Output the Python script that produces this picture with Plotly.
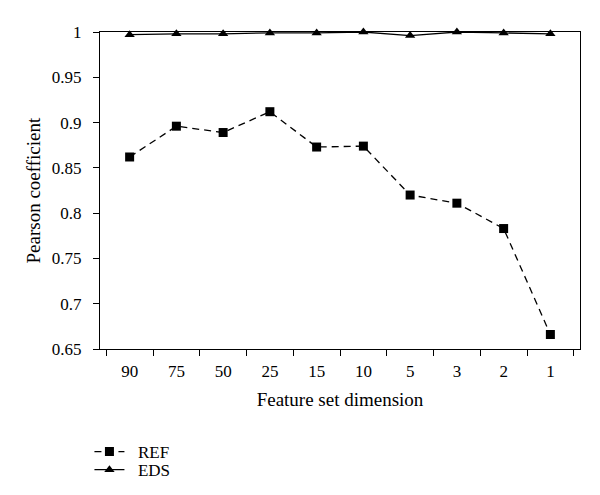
import plotly.graph_objects as go

categories = ["90", "75", "50", "25", "15", "10", "5", "3", "2", "1"]
ref_values = [0.862, 0.896, 0.889, 0.912, 0.873, 0.874, 0.820, 0.811, 0.783, 0.666]
eds_values = [0.997, 0.998, 0.998, 0.999, 0.999, 1.000, 0.996, 1.000, 0.999, 0.998]

font_family = "Liberation Serif, Times New Roman, serif"
tick_font = dict(family=font_family, size=17, color="black")
title_font = dict(family=font_family, size=19, color="black")
legend_font = dict(family=font_family, size=17, color="black")

fig = go.Figure()
fig.add_trace(go.Scatter(
    x=categories, y=ref_values, name="\u00a0\u00a0REF", mode="lines+markers",
    line=dict(color="black", width=1.3, dash="7px,5px"),
    marker=dict(symbol="square", size=9, color="black"),
    cliponaxis=False, legend="legend",
))
fig.add_trace(go.Scatter(
    x=categories, y=eds_values, name="\u00a0\u00a0EDS", mode="lines+markers",
    line=dict(color="black", width=1.3),
    marker=dict(symbol="triangle-up", size=9, color="black"),
    cliponaxis=False, legend="legend2",
))

legend_style = dict(xanchor="left", yanchor="middle", font=legend_font,
                    bgcolor="rgba(0,0,0,0)", itemwidth=30)

fig.update_layout(
    width=600, height=495,
    margin=dict(l=92, r=28, t=24, b=154, autoexpand=False),
    paper_bgcolor="white", plot_bgcolor="white",
    font=tick_font,
    showlegend=True,
    legend=dict(x=-0.022, y=-0.325, **legend_style),
    legend2=dict(x=-0.022, y=-0.382, **legend_style),
    xaxis=dict(
        type="category", showline=True, linecolor="black", linewidth=1.3,
        mirror=True, ticks="outside", tickson="boundaries", ticklen=6,
        tickcolor="black", showgrid=False, zeroline=False,
        ticklabelstandoff=6, automargin=False, tickfont=tick_font,
        title=dict(text="Feature set dimension", standoff=13, font=title_font),
    ),
    yaxis=dict(
        range=[0.65, 1.0], dtick=0.05, tick0=0.65,
        showline=True, linecolor="black", linewidth=1.3, mirror=True,
        ticks="outside", ticklen=6, tickcolor="black",
        showgrid=False, zeroline=False, tickfont=tick_font,
        ticklabelstandoff=8, automargin=False,
    ),
    annotations=[dict(
        text="Pearson coefficient", xref="paper", yref="paper",
        x=0, y=0.5, xanchor="center", yanchor="middle", xshift=-67,
        textangle=-90, showarrow=False, font=title_font,
    )],
)

fig.write_html("out.html")
